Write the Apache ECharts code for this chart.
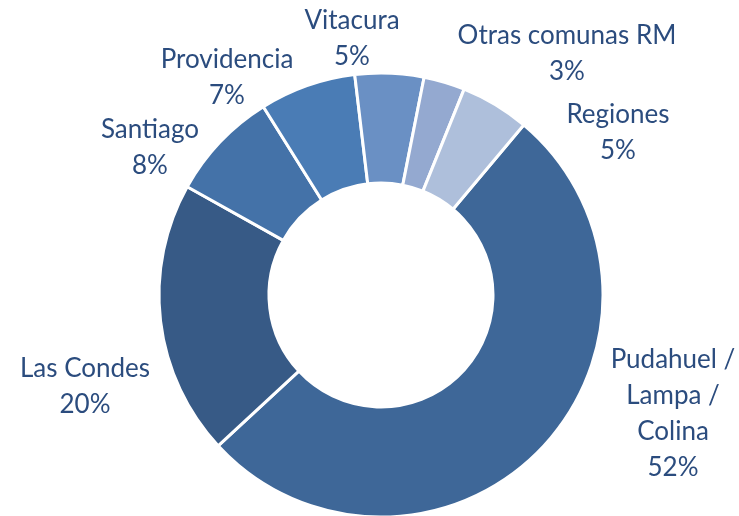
<!DOCTYPE html>
<html>
<head>
<meta charset="utf-8">
<script src="https://cdn.jsdelivr.net/npm/echarts@6/dist/echarts.min.js"></script>
<style>
  html, body { margin: 0; padding: 0; background: #ffffff; }
  #chart { width: 739px; height: 516px; }
</style>
</head>
<body>
<div id="chart"></div>
<script>
// 数据（顺时针，从 Pudahuel 开始）
const categories = ["Pudahuel /\nLampa /\nColina", "Las Condes", "Santiago", "Providencia", "Vitacura", "Otras comunas RM", "Regiones"];
const values = [52, 20, 8, 7, 5, 3, 5];
const colors = ["#3e6798", "#375a86", "#4472a8", "#4a7cb5", "#6a90c4", "#94a9d0", "#aebfdb"];

// 标签中心位置（像素）
const labelPos = [[673, 414], [85, 387], [150, 148], [227, 78], [352, 39], [567, 54], [618, 133]];

const chart = echarts.init(document.getElementById("chart"));
chart.setOption({
  backgroundColor: "#ffffff",
  animation: false,
  series: [{
    type: "pie",
    center: [381, 295],
    radius: [112, 222],
    startAngle: 50,
    clockwise: true,
    avoidLabelOverlap: false,
    itemStyle: { borderColor: "#ffffff", borderWidth: 3 },
    label: {
      show: true,
      position: "outside",
      color: "#2b4c7e",
      fontFamily: "Lato",
      fontSize: 26,
      lineHeight: 36,
      align: "center",
      formatter: (p) => `${p.name}\n${p.value}%`,
    },
    labelLine: { show: false },
    labelLayout: (params) => {
      const pos = labelPos[params.dataIndex];
      return { x: pos[0], y: pos[1], align: "center", verticalAlign: "middle" };
    },
    emphasis: { disabled: true },
    data: categories.map((c, i) => ({ name: c, value: values[i], itemStyle: { color: colors[i] } })),
  }],
});
</script>
</body>
</html>
